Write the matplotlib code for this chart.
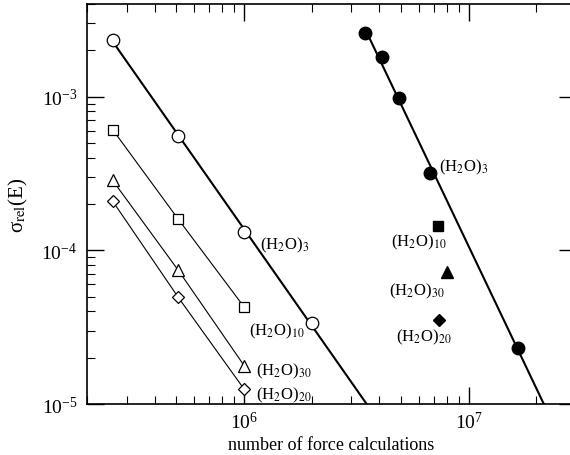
import numpy as np
import matplotlib as mpl
mpl.use("Agg")
import matplotlib.pyplot as plt

plt.rcParams["font.family"] = ["Liberation Serif", "DejaVu Serif"]
plt.rcParams["mathtext.fontset"] = "stix"

# series A (open symbols), number of force calculations vs sigma_rel(E)
x_open = [2.6e5, 5.1e5, 1.0e6, 2.0e6]
y_w3_open = [2.35e-3, 5.5e-4, 1.31e-4, 3.36e-5]
x_open3 = [2.6e5, 5.1e5, 1.0e6]
y_w10_open = [6.1e-4, 1.59e-4, 4.28e-5]
y_w30_open = [2.85e-4, 7.4e-5, 1.78e-5]
y_w20_open = [2.09e-4, 4.93e-5, 1.25e-5]

# series B (filled symbols)
x_w3_fill = [3.47e6, 4.1e6, 4.89e6, 6.7e6, 1.66e7]
y_w3_fill = [2.6e-3, 1.81e-3, 9.75e-4, 3.2e-4, 2.31e-5]
x_w10_fill = [7.3e6]
y_w10_fill = [1.44e-4]
x_w30_fill = [8.0e6]
y_w30_fill = [7.2e-5]
x_w20_fill = [7.4e6]
y_w20_fill = [3.5e-5]

def fitline(xs, ys, xend):
  p = np.polyfit(np.log10(xs), np.log10(ys), 1)
  xx = np.array([xs[0], xend])
  return xx, 10 ** np.polyval(p, np.log10(xx))

fig = plt.figure(figsize=(5.7, 4.56), dpi=100)
ax = fig.add_axes([87/570, 1-405/456, 489/570, 400/456])
ax.set_xscale("log")
ax.set_yscale("log")
ax.set_xlim(2e5, 3e7)
ax.set_ylim(1e-5, 4e-3)

# fitted lines
fx, fy = fitline(x_open, y_w3_open, 1e8)
ax.plot(fx, fy, color="k", lw=1.5, zorder=2)
fx, fy = fitline(x_w3_fill, y_w3_fill, 1e8)
ax.plot(fx, fy, color="k", lw=1.5, zorder=2)

ax.plot(x_open, y_w3_open, "o", ms=9, mfc="white", mec="k", mew=0.9, zorder=3)
ax.plot(x_open3, y_w10_open, "s-", ms=7.5, mfc="white", mec="k", mew=0.9, color="k", lw=0.8)
ax.plot(x_open3, y_w30_open, "^-", ms=8.5, mfc="white", mec="k", mew=0.9, color="k", lw=0.8)
ax.plot(x_open3, y_w20_open, "D-", ms=6.5, mfc="white", mec="k", mew=0.9, color="k", lw=0.8)

ax.plot(x_w3_fill, y_w3_fill, "o", ms=9, color="k", zorder=3)
ax.plot(x_w10_fill, y_w10_fill, "s", ms=7, color="k")
ax.plot(x_w30_fill, y_w30_fill, "^", ms=8.5, color="k")
ax.plot(x_w20_fill, y_w20_fill, "D", ms=6, color="k")

fs = 12
ax.text(1.18e6, 1.1e-4, r"(H$_2$O)$_3$", fontsize=fs, va="center")
ax.text(1.05e6, 3.0e-5, r"(H$_2$O)$_{10}$", fontsize=fs, va="center")
ax.text(1.13e6, 1.65e-5, r"(H$_2$O)$_{30}$", fontsize=fs, va="center")
ax.text(1.13e6, 1.15e-5, r"(H$_2$O)$_{20}$", fontsize=fs, va="center")
ax.text(7.35e6, 3.5e-4, r"(H$_2$O)$_3$", fontsize=fs, va="center")
ax.text(8.0e6, 1.15e-4, r"(H$_2$O)$_{10}$", fontsize=fs, va="center", ha="right")
ax.text(7.8e6, 5.5e-5, r"(H$_2$O)$_{30}$", fontsize=fs, va="center", ha="right")
ax.text(8.4e6, 2.75e-5, r"(H$_2$O)$_{20}$", fontsize=fs, va="center", ha="right")

ax.set_xlabel("number of force calculations", fontsize=13, labelpad=3)
ax.set_ylabel(r"σ$_{\rm rel}$(E)", fontsize=15, labelpad=8)

ax.tick_params(which="both", direction="in", top=True, right=True, labelsize=14)
ax.tick_params(axis="x", pad=5)
ax.tick_params(axis="y", pad=7)
ax.tick_params(which="major", length=12, width=1)
ax.tick_params(which="minor", length=6, width=0.8)
ax.yaxis.set_tick_params(which="minor", right=False)
ax.xaxis.set_minor_formatter(mpl.ticker.NullFormatter())
ax.yaxis.set_minor_formatter(mpl.ticker.NullFormatter())
for s in ax.spines.values():
  s.set_linewidth(1.2)

plt.savefig("out.png", dpi=100)
